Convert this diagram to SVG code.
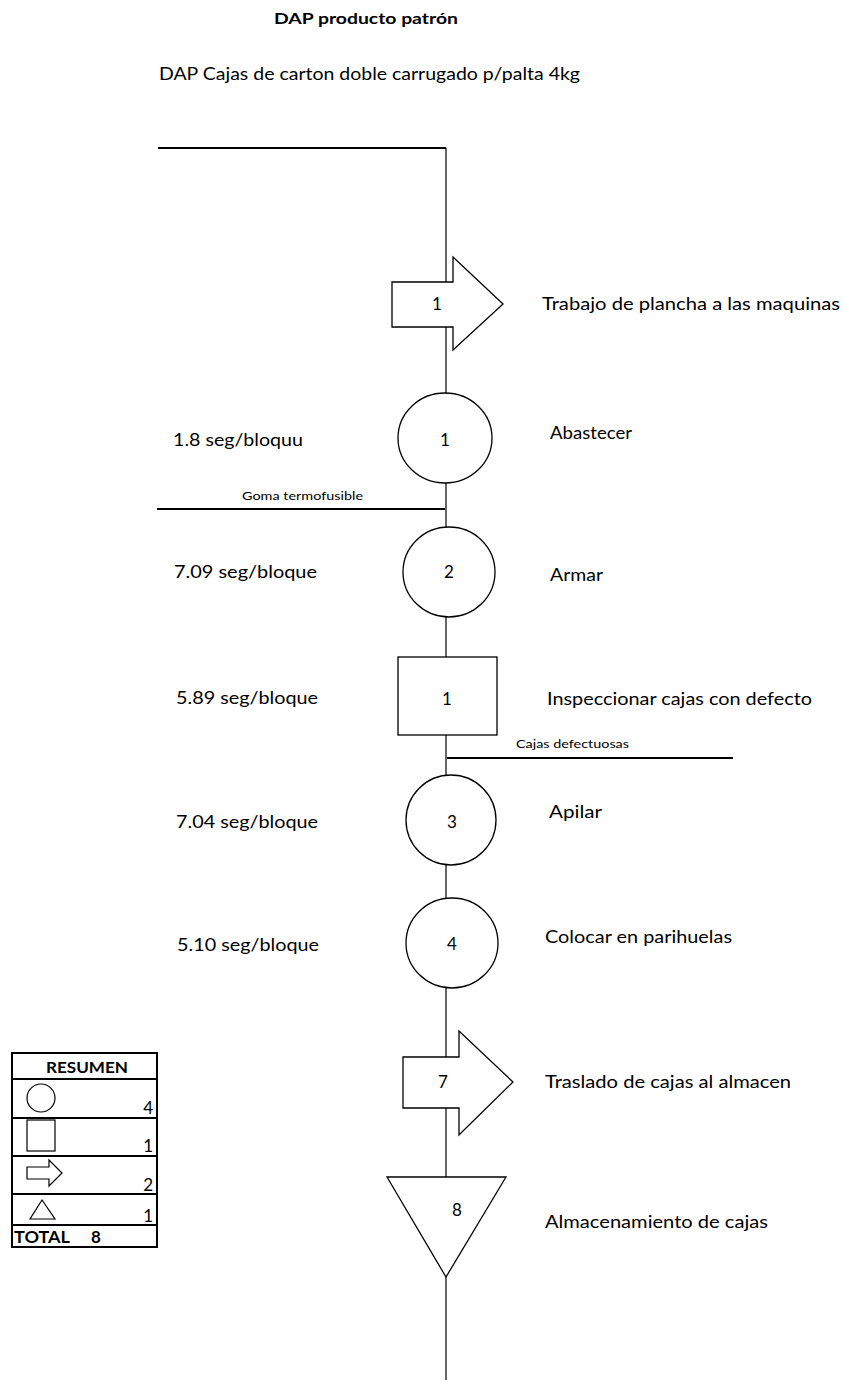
<svg xmlns="http://www.w3.org/2000/svg" width="845" height="1381" viewBox="0 0 845 1381">
<style>
  text { font-family: Lato, "Liberation Sans", Arial, sans-serif; fill: #000; }
  .lbl { font-size: 17px; }
  .num { font-size: 17px; text-anchor: middle; }
  .small { font-size: 12px; }
  .shape { fill: #fff; stroke: #000; stroke-width: 1.3; }
  .flow { fill: none; stroke: #000; stroke-width: 1.2; }
  .feed { fill: none; stroke: #000; stroke-width: 2; }
  .leg { fill: #fff; stroke: #000; stroke-width: 2; }
  .icon { fill: #fff; stroke: #000; stroke-width: 1.2; }
</style>
<rect width="845" height="1381" fill="#fff"/>
<text x="366" y="24" font-size="15" font-weight="bold" text-anchor="middle" textLength="184" lengthAdjust="spacingAndGlyphs">DAP producto patrón</text>
<text x="159" y="80" class="lbl" font-size="18" textLength="421" lengthAdjust="spacingAndGlyphs">DAP Cajas de carton doble carrugado p/palta 4kg</text>

<g id="connectors">
  <path class="feed" d="M158 148 H446"/>
  <path class="flow" d="M446 148 V1380"/>
  <path class="feed" d="M157 509 H445"/>
  <path class="feed" d="M447 758 H733"/>
  <text x="242" y="500" class="small" textLength="121" lengthAdjust="spacingAndGlyphs">Goma termofusible</text>
  <text x="516" y="748" class="small" textLength="113" lengthAdjust="spacingAndGlyphs">Cajas defectuosas</text>
</g>

<g id="n1-transporte">
  <polygon class="shape" points="392,282 453,282 453,257 503,304 453,350 453,327 392,327"/>
  <text x="437" y="310" class="num">1</text>
  <text x="542" y="310" class="lbl" textLength="298" lengthAdjust="spacingAndGlyphs">Trabajo de plancha a las maquinas</text>
</g>

<g id="n2-abastecer">
  <ellipse class="shape" cx="445" cy="438" rx="47" ry="45"/>
  <text x="445" y="446" class="num">1</text>
  <text x="173" y="446" class="lbl" textLength="130" lengthAdjust="spacingAndGlyphs">1.8 seg/bloquu</text>
  <text x="550" y="439" class="lbl" textLength="82" lengthAdjust="spacingAndGlyphs">Abastecer</text>
</g>

<g id="n3-armar">
  <ellipse class="shape" cx="449" cy="572" rx="46" ry="45"/>
  <text x="449" y="578" class="num">2</text>
  <text x="174" y="578" class="lbl" textLength="143" lengthAdjust="spacingAndGlyphs">7.09 seg/bloque</text>
  <text x="550" y="581" class="lbl" textLength="53" lengthAdjust="spacingAndGlyphs">Armar</text>
</g>

<g id="n4-inspeccionar">
  <rect class="shape" x="398" y="657" width="99" height="78"/>
  <text x="447" y="705" class="num">1</text>
  <text x="176" y="704" class="lbl" textLength="142" lengthAdjust="spacingAndGlyphs">5.89 seg/bloque</text>
  <text x="547" y="705" class="lbl" textLength="265" lengthAdjust="spacingAndGlyphs">Inspeccionar cajas con defecto</text>
</g>

<g id="n5-apilar">
  <ellipse class="shape" cx="451" cy="820" rx="45" ry="45"/>
  <text x="452" y="828" class="num">3</text>
  <text x="176" y="828" class="lbl" textLength="142" lengthAdjust="spacingAndGlyphs">7.04 seg/bloque</text>
  <text x="549" y="818" class="lbl" textLength="53" lengthAdjust="spacingAndGlyphs">Apilar</text>
</g>

<g id="n6-colocar">
  <ellipse class="shape" cx="452" cy="943" rx="46" ry="45"/>
  <text x="452" y="950" class="num">4</text>
  <text x="177" y="951" class="lbl" textLength="142" lengthAdjust="spacingAndGlyphs">5.10 seg/bloque</text>
  <text x="545" y="943" class="lbl" textLength="187" lengthAdjust="spacingAndGlyphs">Colocar en parihuelas</text>
</g>

<g id="n7-traslado">
  <polygon class="shape" points="403,1057 459,1057 459,1031 513,1082 459,1135 459,1108 403,1108"/>
  <text x="443" y="1088" class="num">7</text>
  <text x="545" y="1088" class="lbl" textLength="246" lengthAdjust="spacingAndGlyphs">Traslado de cajas al almacen</text>
</g>

<g id="n8-almacenamiento">
  <polygon class="shape" points="387,1177 506,1177 446,1277"/>
  <text x="457" y="1216" class="num">8</text>
  <text x="545" y="1228" class="lbl" textLength="223" lengthAdjust="spacingAndGlyphs">Almacenamiento de cajas</text>
</g>

<g id="resumen">
  <rect class="leg" x="12" y="1053" width="145" height="194"/>
  <path class="feed" d="M12 1079 H157 M12 1118 H157 M12 1156 H157 M12 1194 H157 M12 1225 H157"/>
  <text x="87" y="1073" font-size="16" font-weight="bold" text-anchor="middle" textLength="82" lengthAdjust="spacingAndGlyphs">RESUMEN</text>
  <ellipse class="icon" cx="41" cy="1098" rx="14" ry="14"/>
  <text x="153" y="1114" class="lbl" font-size="18" text-anchor="end">4</text>
  <rect class="icon" x="27" y="1120" width="28" height="31"/>
  <text x="153" y="1152" class="lbl" font-size="18" text-anchor="end">1</text>
  <polygon class="icon" points="27,1167 49,1167 49,1160 62,1173 49,1186 49,1179 27,1179"/>
  <text x="153" y="1191" class="lbl" font-size="18" text-anchor="end">2</text>
  <polygon class="icon" points="30,1219 55,1219 42,1200"/>
  <text x="153" y="1222" class="lbl" font-size="18" text-anchor="end">1</text>
  <text x="14" y="1243" font-size="17" font-weight="bold" textLength="56" lengthAdjust="spacingAndGlyphs">TOTAL</text>
  <text x="91" y="1243" font-size="17" font-weight="bold">8</text>
</g>
</svg>
